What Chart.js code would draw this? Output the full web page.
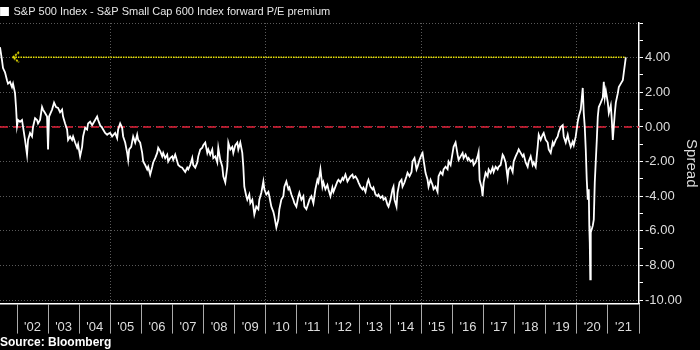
<!DOCTYPE html>
<html>
<head>
<meta charset="utf-8">
<script src="https://cdn.jsdelivr.net/npm/chart.js@4.4.0/dist/chart.umd.min.js"></script>
<style>
  html, body { margin: 0; background: #000; }
  #wrap { width: 700px; height: 350px; position: relative; }
</style>
</head>
<body>
<div id="wrap"><canvas id="spreadChart"></canvas></div>
<script>
// Forward P/E spread: S&P 500 minus S&P Small Cap 600.

const seriesName = "S&P 500 Index - S&P Small Cap 600 Index forward P/E premium";
const sourceText = "Source: Bloomberg";
const axisTitle = "Spread";

// decimal years
const dates = [
  2001.453, 2001.517, 2001.550, 2001.614, 2001.678, 2001.711, 2001.775, 2001.839, 2001.872, 2001.936, 2001.968,
  2002.000, 2002.033, 2002.097, 2002.161, 2002.194, 2002.258, 2002.322, 2002.355, 2002.419, 2002.483, 2002.515,
  2002.580, 2002.644, 2002.676, 2002.741, 2002.805, 2002.837, 2002.902, 2002.966, 2002.998,
  2003.031, 2003.127, 2003.192, 2003.256, 2003.320, 2003.385, 2003.449, 2003.481, 2003.546, 2003.610, 2003.642,
  2003.707, 2003.771, 2003.803, 2003.868, 2003.932, 2003.964,
  2004.029, 2004.093, 2004.125, 2004.190, 2004.254, 2004.286, 2004.351, 2004.415, 2004.447, 2004.512, 2004.576,
  2004.608, 2004.673, 2004.737, 2004.769, 2004.834, 2004.898, 2004.930, 2004.995,
  2005.059, 2005.156, 2005.220, 2005.252, 2005.317, 2005.381, 2005.413, 2005.478, 2005.542, 2005.574, 2005.606,
  2005.671, 2005.735, 2005.800, 2005.864, 2005.896, 2005.960,
  2006.025, 2006.057, 2006.121, 2006.186, 2006.218, 2006.282, 2006.347, 2006.379, 2006.443, 2006.508, 2006.540,
  2006.604, 2006.669, 2006.701, 2006.765, 2006.830, 2006.862, 2006.926, 2006.991,
  2007.023, 2007.087, 2007.152, 2007.184, 2007.248, 2007.313, 2007.345, 2007.409, 2007.474, 2007.506, 2007.570,
  2007.635, 2007.667, 2007.731, 2007.796, 2007.828, 2007.892, 2007.957, 2007.989,
  2008.053, 2008.118, 2008.150, 2008.214, 2008.279, 2008.311, 2008.375, 2008.440, 2008.472, 2008.536, 2008.601,
  2008.633, 2008.697, 2008.762, 2008.794, 2008.858, 2008.922, 2008.955,
  2009.019, 2009.083, 2009.116, 2009.180, 2009.244, 2009.277, 2009.309, 2009.373, 2009.405, 2009.470, 2009.502,
  2009.566, 2009.599, 2009.631, 2009.695, 2009.760, 2009.792, 2009.856, 2009.921, 2009.953,
  2010.017, 2010.082, 2010.114, 2010.178, 2010.243, 2010.275, 2010.339, 2010.403, 2010.436, 2010.500, 2010.564,
  2010.597, 2010.661, 2010.725, 2010.758, 2010.822, 2010.886, 2010.919, 2010.983,
  2011.047, 2011.080, 2011.144, 2011.208, 2011.241, 2011.305, 2011.369, 2011.402, 2011.466, 2011.530, 2011.595,
  2011.659, 2011.692, 2011.756, 2011.820, 2011.852, 2011.917, 2011.981,
  2012.013, 2012.078, 2012.142, 2012.174, 2012.239, 2012.303, 2012.335, 2012.400, 2012.464, 2012.496, 2012.561,
  2012.625, 2012.657, 2012.722, 2012.786, 2012.818, 2012.883, 2012.947, 2012.979,
  2013.044, 2013.108, 2013.140, 2013.205, 2013.269, 2013.301, 2013.366, 2013.430, 2013.462, 2013.527, 2013.591,
  2013.623, 2013.687, 2013.752, 2013.784, 2013.848, 2013.913, 2013.945,
  2014.009, 2014.074, 2014.106, 2014.138, 2014.203, 2014.235, 2014.299, 2014.364, 2014.396, 2014.460, 2014.525,
  2014.557, 2014.621, 2014.686, 2014.718, 2014.782, 2014.847, 2014.879, 2014.943,
  2015.008, 2015.040, 2015.072, 2015.136, 2015.201, 2015.233, 2015.297, 2015.362, 2015.394, 2015.458, 2015.523,
  2015.555, 2015.619, 2015.684, 2015.716, 2015.780, 2015.845, 2015.877, 2015.941,
  2016.006, 2016.038, 2016.102, 2016.167, 2016.199, 2016.263, 2016.328, 2016.360, 2016.424, 2016.489, 2016.521,
  2016.585, 2016.650, 2016.682, 2016.746, 2016.811, 2016.843, 2016.875, 2016.939, 2016.971,
  2017.004, 2017.068, 2017.132, 2017.165, 2017.229, 2017.293, 2017.326, 2017.390, 2017.454, 2017.487, 2017.551,
  2017.615, 2017.648, 2017.712, 2017.776, 2017.809, 2017.873, 2017.937, 2017.970,
  2018.034, 2018.098, 2018.131, 2018.195, 2018.259, 2018.292, 2018.356, 2018.420, 2018.453, 2018.517, 2018.581,
  2018.614, 2018.678, 2018.742, 2018.775, 2018.839, 2018.903, 2018.936,
  2019.000, 2019.064, 2019.097, 2019.161, 2019.225, 2019.258, 2019.322, 2019.386, 2019.419, 2019.483, 2019.547,
  2019.580, 2019.644, 2019.708, 2019.741, 2019.805, 2019.869, 2019.902, 2019.966,
  2020.030, 2020.063, 2020.127, 2020.191, 2020.224, 2020.256, 2020.288, 2020.320, 2020.353, 2020.385, 2020.401,
  2020.417, 2020.433, 2020.449, 2020.514, 2020.546, 2020.578, 2020.643, 2020.675, 2020.707, 2020.771, 2020.836,
  2020.868, 2020.900, 2020.933, 2020.997,
  2021.029, 2021.093, 2021.126, 2021.158, 2021.222, 2021.255, 2021.319, 2021.351, 2021.415, 2021.480, 2021.512,
  2021.576
];

const spread = [
  4.6, 3.85, 3.4, 3.15, 2.7, 2.5, 2.6, 2.3, 2.5, 1.95, 1.15,
  0.05, 0.4, 0.3, 0.4, 0.0, -0.75, -1.6, -0.75, -0.35, -0.55, 0.0,
  0.5, 0.4, 0.2, 0.4, 1.15, 1.0, 0.8, 0.6, -1.3,
  0.6, 1.0, 1.4, 1.15, 1.1, 0.85, 1.0, 0.6, 0.2, -0.15, -0.75,
  -0.55, -0.75, -0.55, -0.9, -1.2, -1.0,
  -1.7, -1.15, -0.55, -0.05, -0.15, 0.2, 0.3, 0.1, 0.2, 0.4, 0.6,
  0.4, 0.1, -0.05, -0.15, -0.35, -0.45, -0.4, -0.35,
  -0.55, -0.35, -0.65, -0.15, 0.2, -0.05, -0.55, -0.9, -1.5, -1.9, -1.3,
  -1.15, -0.55, -0.9, -0.45, -0.75, -0.9,
  -1.5, -2.0, -2.2, -2.45, -2.3, -2.75, -2.3, -2.05, -1.8, -1.5, -1.2,
  -1.4, -1.7, -1.5, -1.8, -1.6, -2.0, -1.8, -1.7,
  -1.9, -1.6, -2.0, -2.2, -2.3, -2.35, -2.45, -2.6, -2.35, -2.45, -2.2,
  -1.8, -2.2, -2.35, -2.05, -1.7, -1.3, -1.2, -1.05,
  -0.9, -1.5, -1.3, -1.6, -1.3, -1.8, -1.7, -2.05, -1.2, -1.9, -2.3,
  -2.85, -3.2, -2.3, -0.9, -1.3, -1.15, -1.5,
  -1.05, -0.9, -1.3, -0.9, -1.5, -2.3, -3.45, -4.0, -4.2, -3.9, -4.4,
  -4.2, -4.6, -5.05, -4.6, -4.75, -4.2, -3.8, -3.15, -3.6,
  -3.9, -3.75, -4.0, -4.6, -4.9, -5.15, -5.8, -5.35, -4.75, -4.2, -4.0,
  -3.45, -3.15, -3.6, -3.5, -3.9, -4.2, -4.4, -4.6,
  -4.0, -3.8, -4.2, -4.0, -4.6, -4.75, -4.4, -4.2, -4.0, -4.4, -3.6,
  -3.05, -3.2, -2.45, -3.45, -3.2, -3.6, -3.35,
  -3.6, -4.0, -3.5, -3.75, -3.45, -3.15, -3.05, -3.2, -2.95, -3.05, -2.75,
  -3.15, -3.05, -2.85, -2.75, -2.95, -2.85, -3.05, -3.2,
  -3.45, -3.6, -3.5, -3.75, -3.2, -3.05, -3.45, -3.6, -3.5, -3.9, -4.0,
  -3.9, -4.1, -4.0, -4.2, -4.1, -4.5, -4.6,
  -4.2, -3.6, -3.45, -4.2, -4.6, -3.8, -3.2, -3.05, -3.45, -3.2, -2.85,
  -2.65, -2.85, -2.6, -2.0, -1.8, -2.45, -2.3, -1.9,
  -1.6, -1.5, -1.9, -2.65, -3.05, -3.45, -3.05, -3.35, -3.6, -3.45, -3.75,
  -2.85, -2.6, -2.75, -2.45, -2.3, -2.45, -2.0, -2.2,
  -1.5, -1.15, -0.9, -1.6, -1.9, -1.7, -1.5, -1.8, -1.6, -1.9, -1.8,
  -2.0, -1.9, -2.2, -2.05, -1.7, -1.45, -3.05, -3.5, -4.0,
  -3.2, -2.65, -2.85, -2.45, -2.65, -2.35, -2.6, -2.3, -2.45, -2.3, -2.2,
  -1.6, -1.7, -2.05, -2.95, -2.45, -2.3, -2.6, -2.0,
  -1.7, -1.45, -1.3, -1.5, -1.7, -1.6, -2.05, -2.3, -2.0, -1.7, -2.2,
  -2.05, -2.3, -1.15, -0.45, -0.75, -0.45, -0.35,
  -0.75, -0.9, -1.3, -1.5, -0.9, -1.05, -0.75, -0.55, -0.3, 0.0, 0.1,
  -0.55, -0.9, -0.45, -0.75, -1.15, -0.85, -1.05, -0.55,
  0.3, 0.6, 1.0, 2.25, 0.8, 0.0, -1.3, -3.05, -4.2, -3.6, -5.7,
  -6.65, -8.8, -6.1, -5.7, -5.35, -3.2, -0.75, 0.6, 1.15, 1.4, 1.7,
  2.6, 1.7, 2.1, 1.4,
  0.8, 1.25, 0.4, -0.75, 0.8, 1.4, 1.95, 2.3, 2.5, 2.7, 3.15,
  4.02
];

const yearTicks = [2002, 2003, 2004, 2005, 2006, 2007, 2008, 2009, 2010, 2011, 2012,
  2013, 2014, 2015, 2016, 2017, 2018, 2019, 2020, 2021, 2022];
const yearLabels = ["'02", "'03", "'04", "'05", "'06", "'07", "'08", "'09", "'10", "'11", "'12",
  "'13", "'14", "'15", "'16", "'17", "'18", "'19", "'20", "'21", ""];
const spreadTicks = [-10, -9, -8, -7, -6, -5, -4, -3, -2, -1, 0, 1, 2, 3, 4, 5, 6];

const xMin = 2001.453, xMax = 2022;
const yMin = -10.2, yMax = 6;
const markerFrom = 2001.87; // left end of the last-value marker

const $ = (id) => document.getElementById(id);
Chart.defaults.font.family = "'Liberation Sans', Arial, sans-serif";
Chart.defaults.color = "#ddd";

// dotted "<" used as the head of the last-value marker
function chevron() {
  const c = document.createElement("canvas");
  c.width = 14; c.height = 12;
  const g = c.getContext("2d");
  g.strokeStyle = "#f0e800";
  g.lineWidth = 1.8;
  g.setLineDash([2, 1]);
  g.beginPath();
  g.moveTo(13, 1); g.lineTo(7, 6); g.lineTo(13, 11);
  g.stroke();
  return c;
}

const points = dates.map((t, i) => ({ x: t, y: spread[i] }));
const last = points[points.length - 1];

new Chart($("spreadChart"), {
  type: "line",
  data: {
    datasets: [
      {
        label: seriesName,
        data: points,
        borderColor: "#fff",
        backgroundColor: "#fff",
        borderWidth: 1.8,
        pointRadius: 0,
        order: 0
      },
      {
        label: "zero",
        data: [{ x: xMin, y: 0 }, { x: xMax, y: 0 }],
        borderColor: "#e3223a",
        borderWidth: 1.5,
        borderDash: [8, 5],
        pointRadius: 0,
        order: 2
      },
      {
        label: "last",
        data: [{ x: markerFrom, y: last.y }, { x: last.x, y: last.y }],
        borderColor: "#e6e000",
        borderWidth: 1.5,
        borderDash: [1.5, 1],
        pointStyle: chevron(),
        pointRadius: [6, 0],
        order: 1
      }
    ]
  },
  options: {
    responsive: true,
    maintainAspectRatio: false,
    animation: false,
    layout: { autoPadding: false, padding: { top: 5, left: 0, right: 0, bottom: 0 } },
    plugins: {
      tooltip: { enabled: false },
      legend: {
        position: "top",
        align: "start",
        maxHeight: 18,
        labels: {
          filter: (item) => item.datasetIndex === 0,
          boxWidth: 7,
          boxHeight: 7,
          padding: 1,
          color: "#e6e6e6",
          font: { size: 11 }
        }
      },
      title: {
        display: true,
        position: "bottom",
        align: "start",
        text: sourceText,
        color: "#fff",
        font: { size: 12, weight: "bold" },
        padding: { top: 0, bottom: 0 }
      }
    },
    scales: {
      x: {
        type: "linear",
        min: xMin,
        max: xMax,
        afterBuildTicks: (s) => { s.ticks = yearTicks.map(v => ({ value: v })); },
        afterFit: (s) => { s.height = 32; s.paddingLeft = 0; s.paddingRight = 0; },
        ticks: {
          autoSkip: false,
          maxRotation: 0,
          labelOffset: 15.5,
          padding: -14,
          font: { size: 13 },
          color: "#ddd",
          callback: (v) => yearLabels[yearTicks.indexOf(v)] ?? ""
        },
        grid: {
          color: (c) => c.tick && c.tick.value % 5 === 0 ? "#5a5a5a" : "transparent",
          tickColor: "#aaa",
          tickLength: 30,
          lineWidth: 1
        },
        border: { color: "#fff", width: 1.5, dash: [1, 2] }
      },
      y: {
        position: "right",
        min: yMin,
        max: yMax,
        afterBuildTicks: (s) => { s.ticks = spreadTicks.map(v => ({ value: v })); },
        afterFit: (s) => { s.width = 61; s.paddingTop = 0; s.paddingBottom = 0; },
        ticks: {
          autoSkip: false,
          padding: 2,
          font: { size: 13 },
          color: "#ddd",
          callback: (v) => (v % 2 === 0 && v !== yMax) ? v.toFixed(2) : ""
        },
        grid: {
          color: (c) => c.tick && c.tick.value % 2 === 0 ? "#5a5a5a" : "transparent",
          tickColor: "#fff",
          tickLength: 4,
          lineWidth: 1
        },
        border: { color: "#fff", width: 1.5, dash: [1, 2] },
        title: {
          display: true,
          text: axisTitle,
          color: "#ddd",
          font: { size: 15 },
          padding: 0
        }
      }
    }
  }
});
</script>
</body>
</html>
